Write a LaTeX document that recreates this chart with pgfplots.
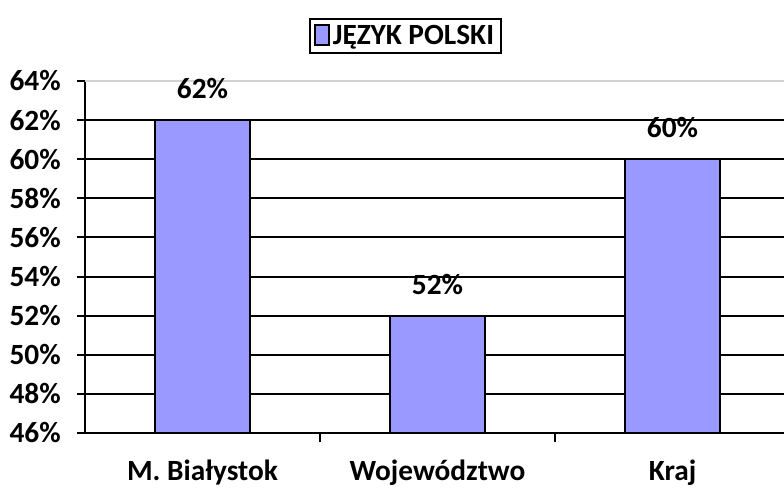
\documentclass[border=0pt]{standalone}
\usepackage{fontspec}
\setmainfont{Carlito}
\usepackage{pgfplots}
\pgfplotsset{compat=1.18}
\usetikzlibrary{calc}
\definecolor{barfill}{HTML}{9999FF}
\begin{document}
\begin{tikzpicture}[x=1pt,y=1pt]
\begin{axis}[
    scale only axis,
    width=524.25pt, height=264pt,
    xmin=-0.5, xmax=2.4745,
    ymin=46, ymax=64,
    axis x line*=bottom, axis y line*=left,
    axis line style={line width=1.5pt, -},
    ytick={46,48,...,62},
    extra y ticks={64},
    extra y tick labels={64\%},
    extra y tick style={grid style={gray!35, line width=1pt}},
    yticklabel={\pgfmathprintnumber{\tick}\%},
    ymajorgrids,
    grid style={black, line width=1.5pt},
    xtick={0,1,2},
    xticklabels={M. Białystok, Województwo, Kraj},
    major x tick style={draw=none},
    minor xtick={0.5,1.5},
    tick align=outside,
    major tick length=6pt, minor tick length=7pt,
    tick style={black, line width=1.5pt},
    /pgf/number format/assume math mode=true,
    tick label style={font=\fontsize{22}{26}\selectfont\bfseries},
    yticklabel style={anchor=east, inner sep=0pt, xshift=-12pt},
    xticklabel style={anchor=base, inner sep=0pt, yshift=-29.5pt},
    ybar, bar width=71.25pt,
    nodes near coords={\pgfmathprintnumber{\pgfplotspointmeta}\%},
    every node near coord/.append style={font=\fontsize{22}{26}\selectfont\bfseries, anchor=base, inner sep=0pt, yshift=16pt, black},
    legend style={at={(0.458,1.128)}, anchor=center, draw=black, line width=1.5pt,
        font=\fontsize{22}{26}\selectfont\bfseries, inner xsep=3pt, inner ysep=3pt},
    legend image code/.code={\draw[#1, line width=1.5pt] (0pt,-7pt) rectangle (11pt,8pt);},
    clip=true,
]
\addplot[fill=barfill, draw=black, line width=1.5pt] coordinates {(0,62) (1,52) (2,60)};
\legend{JĘZYK POLSKI}
\end{axis}
\pgfresetboundingbox
\path[use as bounding box] ($(current axis.south west)+(-63.75pt,-41.25pt)$) rectangle ($(current axis.north east)+(0pt,60.75pt)$);
\end{tikzpicture}
\end{document}
